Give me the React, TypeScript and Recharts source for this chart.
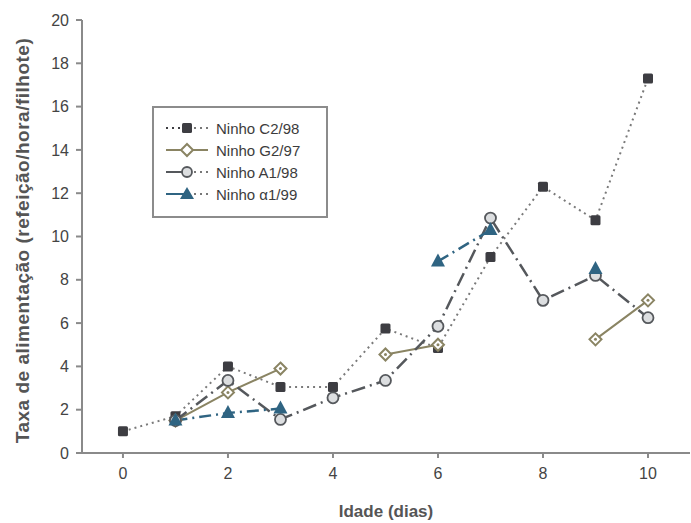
import React from 'react';
import {
  LineChart,
  Line,
  XAxis,
  YAxis,
  Legend,
} from 'recharts';

// feeding rate per chick, by nest, over the first days of age
const days = [0, 1, 2, 3, 4, 5, 6, 7, 8, 9, 10];
const ninhoC2 = [1.0, 1.7, 4.0, 3.05, 3.05, 5.75, 4.85, 9.05, 12.3, 10.75, 17.3];
const ninhoG2 = [null, 1.5, 2.8, 3.9, null, 4.55, 5.0, null, null, 5.25, 7.05];
const ninhoA1 = [null, 1.5, 3.35, 1.55, 2.55, 3.35, 5.85, 10.85, 7.05, 8.2, 6.25];
const ninhoAlfa = [null, 1.5, 1.85, 2.05, null, null, 8.85, 10.3, null, 8.5, null];
const xTicks = [0, 2, 4, 6, 8, 10];
const yTicks = [0, 2, 4, 6, 8, 10, 12, 14, 16, 18, 20];

const data = days.map((d, i) => ({
  dia: d,
  c2: ninhoC2[i],
  g2: ninhoG2[i],
  a1: ninhoA1[i],
  alfa: ninhoAlfa[i],
}));

const C2_COLOR = '#3d3d42';
const G2_COLOR = '#8a8463';
const A1_COLOR = '#55585c';
const ALFA_COLOR = '#2f6482';
const FONT = 'Liberation Sans, Arial, sans-serif';

type DotProps = { cx?: number; cy?: number; index?: number; value?: number | null };

const ok = (p: DotProps) => p.cx != null && p.cy != null && p.value != null;

const SquareDot = (p: DotProps) =>
  ok(p) ? (
    <rect key={`sq-${p.index}`} x={p.cx! - 5} y={p.cy! - 5} width={10} height={10} rx={1.5} fill={C2_COLOR} />
  ) : (
    <g key={`sq-${p.index}`} />
  );

const DiamondDot = (p: DotProps) =>
  ok(p) ? (
    <g key={`dm-${p.index}`}>
      <path
        d={`M${p.cx} ${p.cy! - 6}L${p.cx! + 6} ${p.cy}L${p.cx} ${p.cy! + 6}L${p.cx! - 6} ${p.cy}Z`}
        fill="#fff"
        stroke={G2_COLOR}
        strokeWidth={2}
      />
      <circle cx={p.cx} cy={p.cy} r={1.5} fill={G2_COLOR} />
    </g>
  ) : (
    <g key={`dm-${p.index}`} />
  );

const CircleDot = (p: DotProps) =>
  ok(p) ? (
    <circle key={`ci-${p.index}`} cx={p.cx} cy={p.cy} r={5.5} fill="#dcdee0" stroke={A1_COLOR} strokeWidth={1.8} />
  ) : (
    <g key={`ci-${p.index}`} />
  );

const TriangleDot = (p: DotProps) =>
  ok(p) ? (
    <path
      key={`tr-${p.index}`}
      d={`M${p.cx} ${p.cy! - 8}L${p.cx! + 7} ${p.cy! + 5}L${p.cx! - 7} ${p.cy! + 5}Z`}
      fill={ALFA_COLOR}
    />
  ) : (
    <g key={`tr-${p.index}`} />
  );

// vertical axis title, centred on the plot height
const YTitle = (props: { viewBox?: { x: number; y: number; width: number; height: number } }) => {
  const vb = props.viewBox!;
  const cx = 22;
  const cy = vb.y + vb.height / 2 + 4;
  return (
    <text
      x={cx}
      y={cy}
      transform={`rotate(-90 ${cx} ${cy})`}
      textAnchor="middle"
      dominantBaseline="central"
      fill="#555"
      fontSize={19}
      fontWeight="bold"
      letterSpacing={0.5}
      fontFamily={FONT}
    >
      Taxa de alimentação (refeição/hora/filhote)
    </text>
  );
};

const legendItems = [
  { label: 'Ninho C2/98', color: C2_COLOR, left: '2 4', marker: 'sq' },
  { label: 'Ninho G2/97', color: G2_COLOR, left: undefined, marker: 'dm' },
  { label: 'Ninho A1/98', color: A1_COLOR, left: undefined, marker: 'ci' },
  { label: 'Ninho \u03b11/99', color: ALFA_COLOR, left: undefined, marker: 'tr' },
];

const LegendBox = () => (
  <div style={{ padding: '9px 0 0 10px', fontFamily: FONT, fontSize: 15, color: '#3c3c3c' }}>
    {legendItems.map((it) => (
      <div key={it.label} style={{ display: 'flex', alignItems: 'center', height: 22 }}>
        <svg width={46} height={16}>
          <line x1={2} y1={8} x2={22} y2={8} stroke={it.color} strokeWidth={2} strokeDasharray={it.left} />
          <line
            x1={24}
            y1={8}
            x2={44}
            y2={8}
            stroke={it.marker === 'dm' ? it.color : '#777'}
            strokeWidth={2}
            strokeDasharray={it.marker === 'dm' ? undefined : '2 4'}
          />
          {it.marker === 'sq' && <rect x={18} y={3} width={10} height={10} rx={1.5} fill={it.color} />}
          {it.marker === 'dm' && (
            <path d="M23 2L29 8L23 14L17 8Z" fill="#fff" stroke={it.color} strokeWidth={2} />
          )}
          {it.marker === 'ci' && <circle cx={23} cy={8} r={5} fill="#dcdee0" stroke={it.color} strokeWidth={1.8} />}
          {it.marker === 'tr' && <path d="M23 1L30 13L16 13Z" fill={it.color} />}
        </svg>
        <span style={{ marginLeft: 6 }}>{it.label}</span>
      </div>
    ))}
  </div>
);

export default function App() {
  return (
    <div style={{ position: 'absolute', left: 0, top: 0, background: '#fff' }}>
      <LineChart width={691} height={523} data={data} margin={{ top: 20, right: 1, bottom: 0, left: 0 }}>
        <XAxis
          dataKey="dia"
          type="number"
          domain={[-0.78, 10.8]}
          ticks={xTicks}
          allowDataOverflow
          height={70}
          stroke="#8a8a8a"
          strokeWidth={2}
          tickSize={5}
          tick={{ fill: '#444', fontSize: 16, fontFamily: FONT, dy: 8 }}
          label={{
            value: 'Idade (dias)',
            position: 'insideBottom',
            offset: 6,
            fill: '#555',
            fontSize: 17,
            fontWeight: 'bold',
            fontFamily: FONT,
          }}
        />
        <YAxis
          type="number"
          domain={[0, 20]}
          ticks={yTicks}
          width={82}
          stroke="#8a8a8a"
          strokeWidth={2}
          tickSize={6}
          tick={{ fill: '#444', fontSize: 16, fontFamily: FONT, dx: -5 }}
          label={<YTitle />}
        />
        <Legend
          layout="vertical"
          align="center"
          verticalAlign="middle"
          content={<LegendBox />}
          wrapperStyle={{
            left: 152,
            top: 106,
            width: 176,
            height: 112,
            border: '2px solid #8c8c8c',
            background: '#fff',
            boxSizing: 'border-box',
          }}
        />
        <Line
          dataKey="c2"
          stroke="#7a7a7a"
          strokeWidth={2}
          strokeDasharray="2 4"
          dot={SquareDot}
          activeDot={false}
          isAnimationActive={false}
        />
        <Line
          dataKey="g2"
          stroke={G2_COLOR}
          strokeWidth={2}
          dot={DiamondDot}
          activeDot={false}
          isAnimationActive={false}
        />
        <Line
          dataKey="a1"
          stroke={A1_COLOR}
          strokeWidth={2.5}
          strokeDasharray="14 5 2 5"
          dot={CircleDot}
          activeDot={false}
          isAnimationActive={false}
        />
        <Line
          dataKey="alfa"
          stroke={ALFA_COLOR}
          strokeWidth={2.5}
          strokeDasharray="12 5 2 5"
          dot={TriangleDot}
          activeDot={false}
          isAnimationActive={false}
        />
      </LineChart>
    </div>
  );
}
